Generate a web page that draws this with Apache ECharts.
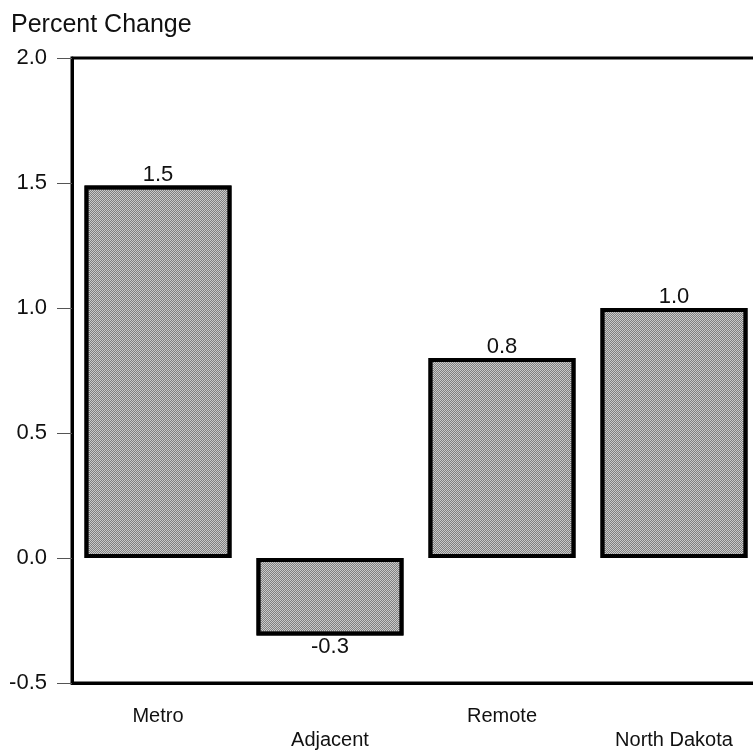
<!DOCTYPE html>
<html><head><meta charset="utf-8">
<script src="https://cdn.jsdelivr.net/npm/echarts@6/dist/echarts.min.js"></script>
<style>html,body{margin:0;padding:0;background:#fff;overflow:hidden;width:753px;height:756px}#c{width:775px;height:756px}</style>
</head><body><div id="c"></div>
<script>
const categories = ['Metro', 'Adjacent', 'Remote', 'North Dakota'];
const values = [1.49, -0.31, 0.8, 1.0];
const yTicks = [-0.5, 0.0, 0.5, 1.0, 1.5, 2.0];
const yAxisTitle = 'Percent Change';

const chart = echarts.init(document.getElementById('c'));
const F = 'Liberation Sans, Arial, sans-serif';
chart.setOption({
  animation: false,
  title: { text: yAxisTitle, left: 6, top: 8, textStyle: { fontFamily: F, fontSize: 25, fontWeight: 'normal', color: '#111' } },
  grid: { left: 72, top: 58, width: 688, height: 625, show: true, borderColor: '#000', borderWidth: 3, backgroundColor: 'transparent' },
  xAxis: {
    type: 'category', data: categories,
    axisLine: { onZero: false, lineStyle: { color: '#000', width: 3 } },
    axisTick: { alignWithLabel: true, length: 12, lineStyle: { color: '#222', width: 1 } },
    axisLabel: {
      margin: 21, interval: 0, verticalAlign: 'top',
      fontFamily: F, fontSize: 20, color: '#111', lineHeight: 24,
      formatter: (v, i) => i % 2 === 0 ? v : '\n' + v
    }
  },
  yAxis: {
    type: 'value', min: -0.5, max: 2.0, interval: 0.5,
    axisLine: { show: true, lineStyle: { color: '#000', width: 3 } },
    axisTick: { show: true, length: 15, lineStyle: { color: '#555', width: 1 } },
    splitLine: { show: false },
    axisLabel: { fontFamily: F, fontSize: 22, color: '#111', margin: 25, formatter: v => yTicks.includes(v) ? v.toFixed(1) : '' }
  },
  series: [{
    type: 'bar', data: values, barWidth: 147,
    itemStyle: {
      color: '#cacaca', borderColor: '#000', borderWidth: 4,
      decal: { symbol: 'rect', symbolSize: 1, dashArrayX: [[1, 1], [0, 1, 1, 0]], dashArrayY: [1, 0], color: '#808080' }
    },
    label: {
      show: true, position: 'outside', fontFamily: F, fontSize: 22, color: '#111', distance: 0,
      formatter: p => p.value.toFixed(1)
    }
  }]
});
</script></body></html>
